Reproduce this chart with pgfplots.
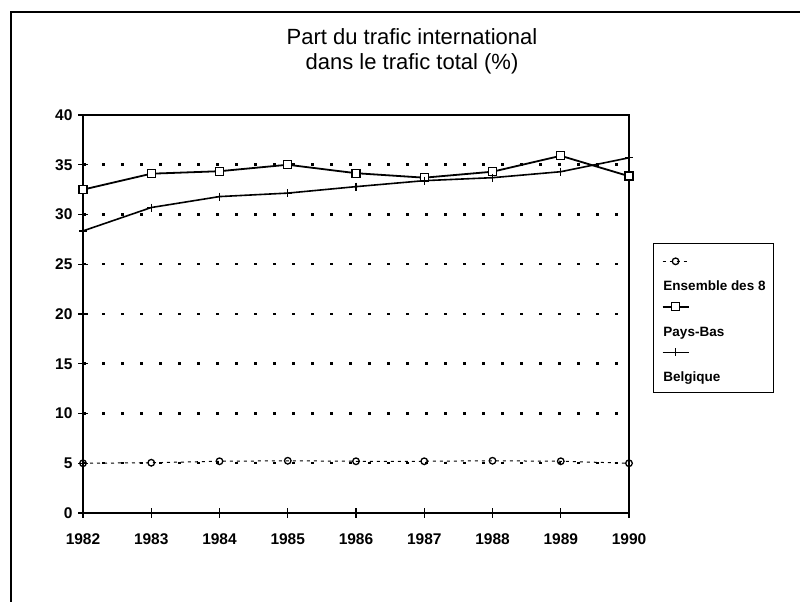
\documentclass[border=0pt]{standalone}
\usepackage{pgfplots}
\pgfplotsset{compat=1.18}
\usepackage{fontspec}
\setmainfont{Liberation Sans}
\begin{document}
\begin{tikzpicture}
\useasboundingbox (0pt,0pt) rectangle (800pt,602pt);
\draw[line width=1.6pt] (11pt,-5pt) -- (11pt,590pt) -- (805pt,590pt);
\node[font=\fontsize{22}{25}\selectfont, align=center] at (412pt,551pt) {Part du trafic international\\dans le trafic total (\%)};
\begin{axis}[
  at={(83pt,89pt)}, anchor=south west,
  scale only axis, width=546pt, height=398pt,
  xmin=1982, xmax=1990, ymin=0, ymax=40,
  xtick={1982,1983,1984,1985,1986,1987,1988,1989,1990},
  ytick={0,5,10,15,20,25,30,35,40},
  xtick pos=left, ytick pos=left,
  /pgf/number format/1000 sep={},
  /pgf/number format/assume math mode=true,
  tick label style={font=\fontsize{15.5}{18}\selectfont\bfseries},
  xticklabel style={yshift=-12pt},
  yticklabel style={xshift=-2pt},
  major tick length=10pt, tick align=center,
  tick style={line width=1.2pt, black},
  axis line style={line width=1.3pt},
  ymajorgrids,
  major grid style={line width=2.5pt, dash pattern=on 2.5pt off 16.5pt, black},
  clip=false,
  legend cell align=left,
  legend image code/.code={
    \draw[overlay, mark repeat=2, mark phase=2, #1] plot coordinates {(0pt,26pt) (13pt,26pt) (26pt,26pt)};
    \path (0pt,-7pt) (0pt,37pt);
  },
  legend style={at={(1.044,0.678)}, anchor=north west, draw=black, line width=1.3pt,
    inner xsep=8pt, inner ysep=6pt, column sep=0pt, row sep=0pt,
    font=\fontsize{13.5}{16}\selectfont\bfseries,
    nodes={inner sep=0pt, text height=10pt, text depth=3pt}},
]
\addplot[black, line width=1pt, dash pattern=on 3pt off 4pt, mark=o, mark size=3.3pt, mark options={solid, line width=1.3pt}]
  coordinates {(1982,5.0) (1983,5.05) (1984,5.2) (1985,5.25) (1986,5.2) (1987,5.2) (1988,5.25) (1989,5.2) (1990,5.0)};
\addlegendentry{Ensemble des 8}
\addplot[black, line width=1.8pt, mark=square*, mark size=4pt, mark options={solid, fill=white, line width=1.4pt}]
  coordinates {(1982,32.5) (1983,34.1) (1984,34.35) (1985,35.0) (1986,34.15) (1987,33.7) (1988,34.3) (1989,35.9) (1990,33.85)};
\addlegendentry{Pays-Bas}
\addplot[black, line width=1.6pt, mark=+, mark size=4pt, mark options={solid, line width=1.2pt}]
  coordinates {(1982,28.35) (1983,30.7) (1984,31.8) (1985,32.15) (1986,32.8) (1987,33.4) (1988,33.7) (1989,34.3) (1990,35.7)};
\addlegendentry{Belgique}
\end{axis}
\end{tikzpicture}
\end{document}
